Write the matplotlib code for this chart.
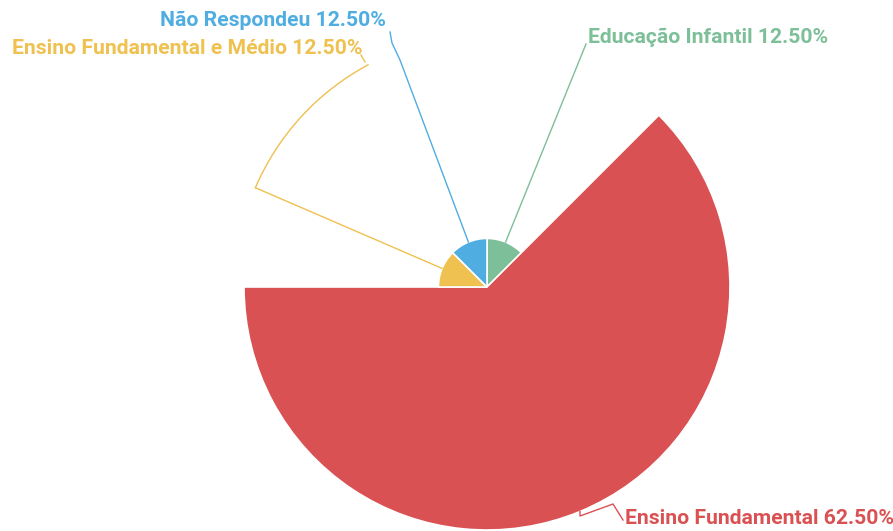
import numpy as np
import matplotlib.pyplot as plt
from matplotlib.patches import Wedge, Arc

# respostas por nível de ensino
categorias = ['Educação Infantil', 'Ensino Fundamental',
              'Ensino Fundamental e Médio', 'Não Respondeu']
valores = [1, 5, 1, 1]
cores = ['#7dbf99', '#d95152', '#eec150', '#4fade1']

W, H = 893, 531
cx, cy = 487, H - 287
r_max = 243

fig = plt.figure(figsize=(W / 100, H / 100), dpi=100)
ax = fig.add_axes([0, 0, 1, 1])
ax.set_xlim(0, W)
ax.set_ylim(0, H)
ax.set_aspect('equal')
ax.axis('off')

total = sum(valores)
pct = [v / total * 100 for v in valores]

# rosa: ângulo proporcional ao valor, raio proporcional ao valor
ang = 90.0
meio = []
raios = []
for v, c in zip(valores, cores):
    span = v / total * 360
    r = r_max * v / max(valores)
    ax.add_patch(Wedge((cx, cy), r, ang - span, ang, facecolor=c,
                       edgecolor='white', linewidth=1.2))
    meio.append(ang - span / 2)
    raios.append(r)
    ang -= span


def borda(i):
    a = np.radians(meio[i])
    return cx + raios[i] * np.cos(a), cy + raios[i] * np.sin(a)


def py(y):
    return H - y


fonte = dict(family=['Roboto', 'DejaVu Sans'], fontweight='bold', fontsize=15.2)

# linhas-guia e rótulos
x0, y0 = borda(0)
ax.plot([x0, 586], [y0, py(44)], color=cores[0], lw=1)
ax.text(588, py(37), f'{categorias[0]} {pct[0]:.2f}%', color=cores[0],
        ha='left', va='center', **fonte)

x0, y0 = borda(1)
ax.plot([x0, 580, 613, 623], [y0, py(516), py(504), py(520)],
        color=cores[1], lw=1)
ax.text(625, py(518), f'{categorias[1]} {pct[1]:.2f}%', color=cores[1],
        ha='left', va='center', **fonte)

x0, y0 = borda(2)
ax.plot([x0, 256], [y0, py(188)], color=cores[2], lw=1)
ax.add_patch(Arc((cx, cy), 2 * 252, 2 * 252, theta1=118, theta2=157,
                 color=cores[2], lw=1))
ax.plot([365, 361], [py(62), py(55)], color=cores[2], lw=1)
ax.text(362, py(48), f'{categorias[2]} {pct[2]:.2f}%', color=cores[2],
        ha='right', va='center', **fonte)

x0, y0 = borda(3)
ax.plot([x0, 400, 392, 390], [y0, py(60), py(43), py(32)],
        color=cores[3], lw=1)
ax.text(386, py(20), f'{categorias[3]} {pct[3]:.2f}%', color=cores[3],
        ha='right', va='center', **fonte)

fig.savefig('out.png', dpi=100)
